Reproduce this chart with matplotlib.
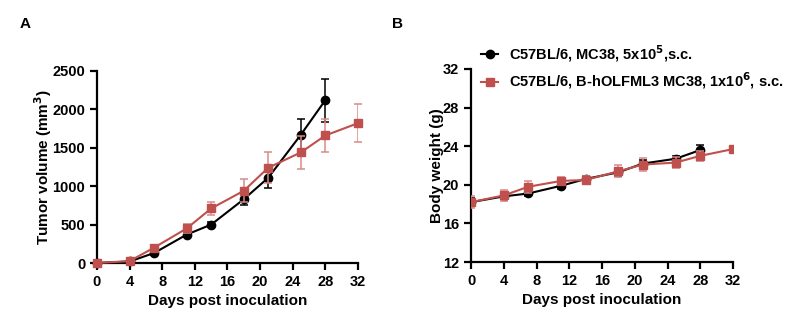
import matplotlib
matplotlib.use('Agg')
import matplotlib.pyplot as plt
from matplotlib.lines import Line2D

plt.rcParams['font.family'] = ['Liberation Sans', 'DejaVu Sans']
plt.rcParams['font.weight'] = 'bold'

# ── data ──────────────────────────────────────────────
days_black = [0, 4, 7, 11, 14, 18, 21, 25, 28]
days_red = [0, 4, 7, 11, 14, 18, 21, 25, 28, 32]

vol_black = [0, 20, 130, 370, 500, 830, 1110, 1670, 2120]
vol_black_err = [0, 10, 20, 30, 30, 80, 140, 200, 280]
vol_red = [0, 25, 200, 450, 710, 940, 1240, 1440, 1660, 1820]
vol_red_err = [0, 10, 30, 60, 90, 150, 200, 210, 210, 250]

bw_black = [18.2, 18.8, 19.1, 19.9, 20.6, 21.3, 22.2, 22.7, 23.6]
bw_black_err = [0.4, 0.3, 0.3, 0.3, 0.3, 0.4, 0.4, 0.3, 0.5]
bw_red = [18.2, 18.9, 19.8, 20.4, 20.5, 21.4, 22.1, 22.3, 23.0, 23.7]
bw_red_err = [0.6, 0.6, 0.6, 0.4, 0.4, 0.6, 0.7, 0.6, 0.5, 0.3]

xticks = [0, 4, 8, 12, 16, 20, 24, 28, 32]
label_black = 'C57BL/6, MC38, 5x10$^{\\mathbf{5}}$,s.c.'
label_red = 'C57BL/6, B-hOLFML3 MC38, 1x10$^{\\mathbf{6}}$, s.c.'

RED = '#c0504d'
RED_ERR = '#d98a88'

fig = plt.figure(figsize=(7.99, 3.30), dpi=100)
axA = fig.add_axes([0.1214, 0.203, 0.3266, 0.582])
axB = fig.add_axes([0.5895, 0.206, 0.3279, 0.585])


def style(ax):
    for s in ['top', 'right']:
        ax.spines[s].set_visible(False)
    for s in ['left', 'bottom']:
        ax.spines[s].set_linewidth(1.6)
    ax.tick_params(width=1.6, length=5, labelsize=10.5)
    for lab in ax.get_xticklabels() + ax.get_yticklabels():
        lab.set_fontweight('bold')


def draw(ax, xb, yb, eb, xr, yr, er):
    ax.errorbar(xb, yb, yerr=eb, color='black', marker='o', ms=6,
                lw=1.5, capsize=3, elinewidth=1.1, capthick=1.1, zorder=3)
    ax.errorbar(xr, yr, yerr=er, color=RED, ecolor=RED_ERR, marker='s', ms=6,
                lw=1.5, capsize=3, elinewidth=1.1, capthick=1.1, zorder=4)


# ── A ───────────────────────────────────────────────
draw(axA, days_black, vol_black, vol_black_err, days_red, vol_red, vol_red_err)
axA.set_xlim(0, 32)
axA.set_ylim(0, 2500)
axA.set_xticks(xticks)
axA.set_yticks([0, 500, 1000, 1500, 2000, 2500])
axA.set_xlabel('Days post inoculation', fontsize=11, fontweight='bold')
axA.set_ylabel('Tumor volume (mm$^{\\mathbf{3}}$)', fontsize=11,
               fontweight='bold', labelpad=-1)
style(axA)
for ln in axA.lines:
    ln.set_clip_on(False)

# ── B ───────────────────────────────────────────────
draw(axB, days_black, bw_black, bw_black_err, days_red, bw_red, bw_red_err)
axB.set_xlim(0, 32)
axB.set_ylim(12, 32)
axB.set_xticks(xticks)
axB.set_yticks([12, 16, 20, 24, 28, 32])
axB.set_xlabel('Days post inoculation', fontsize=11, fontweight='bold')
axB.set_ylabel('Body weight (g)', fontsize=11, fontweight='bold', labelpad=-1)
style(axB)

handles = [
    Line2D([], [], color='black', marker='o', ms=6, lw=1.5),
    Line2D([], [], color=RED, marker='s', ms=6, lw=1.5),
]
axB.legend(handles, [label_black, label_red], loc='lower left',
           bbox_to_anchor=(0.038, 0.885), frameon=False,
           handlelength=1.2, handletextpad=0.75, borderaxespad=0, borderpad=0,
           labelspacing=0.45, prop={'weight': 'bold', 'size': 10.5})

fig.text(0.024, 0.915, 'A', fontsize=11, fontweight='bold')
fig.text(0.49, 0.915, 'B', fontsize=11, fontweight='bold')

fig.savefig('out.png', dpi=100)
